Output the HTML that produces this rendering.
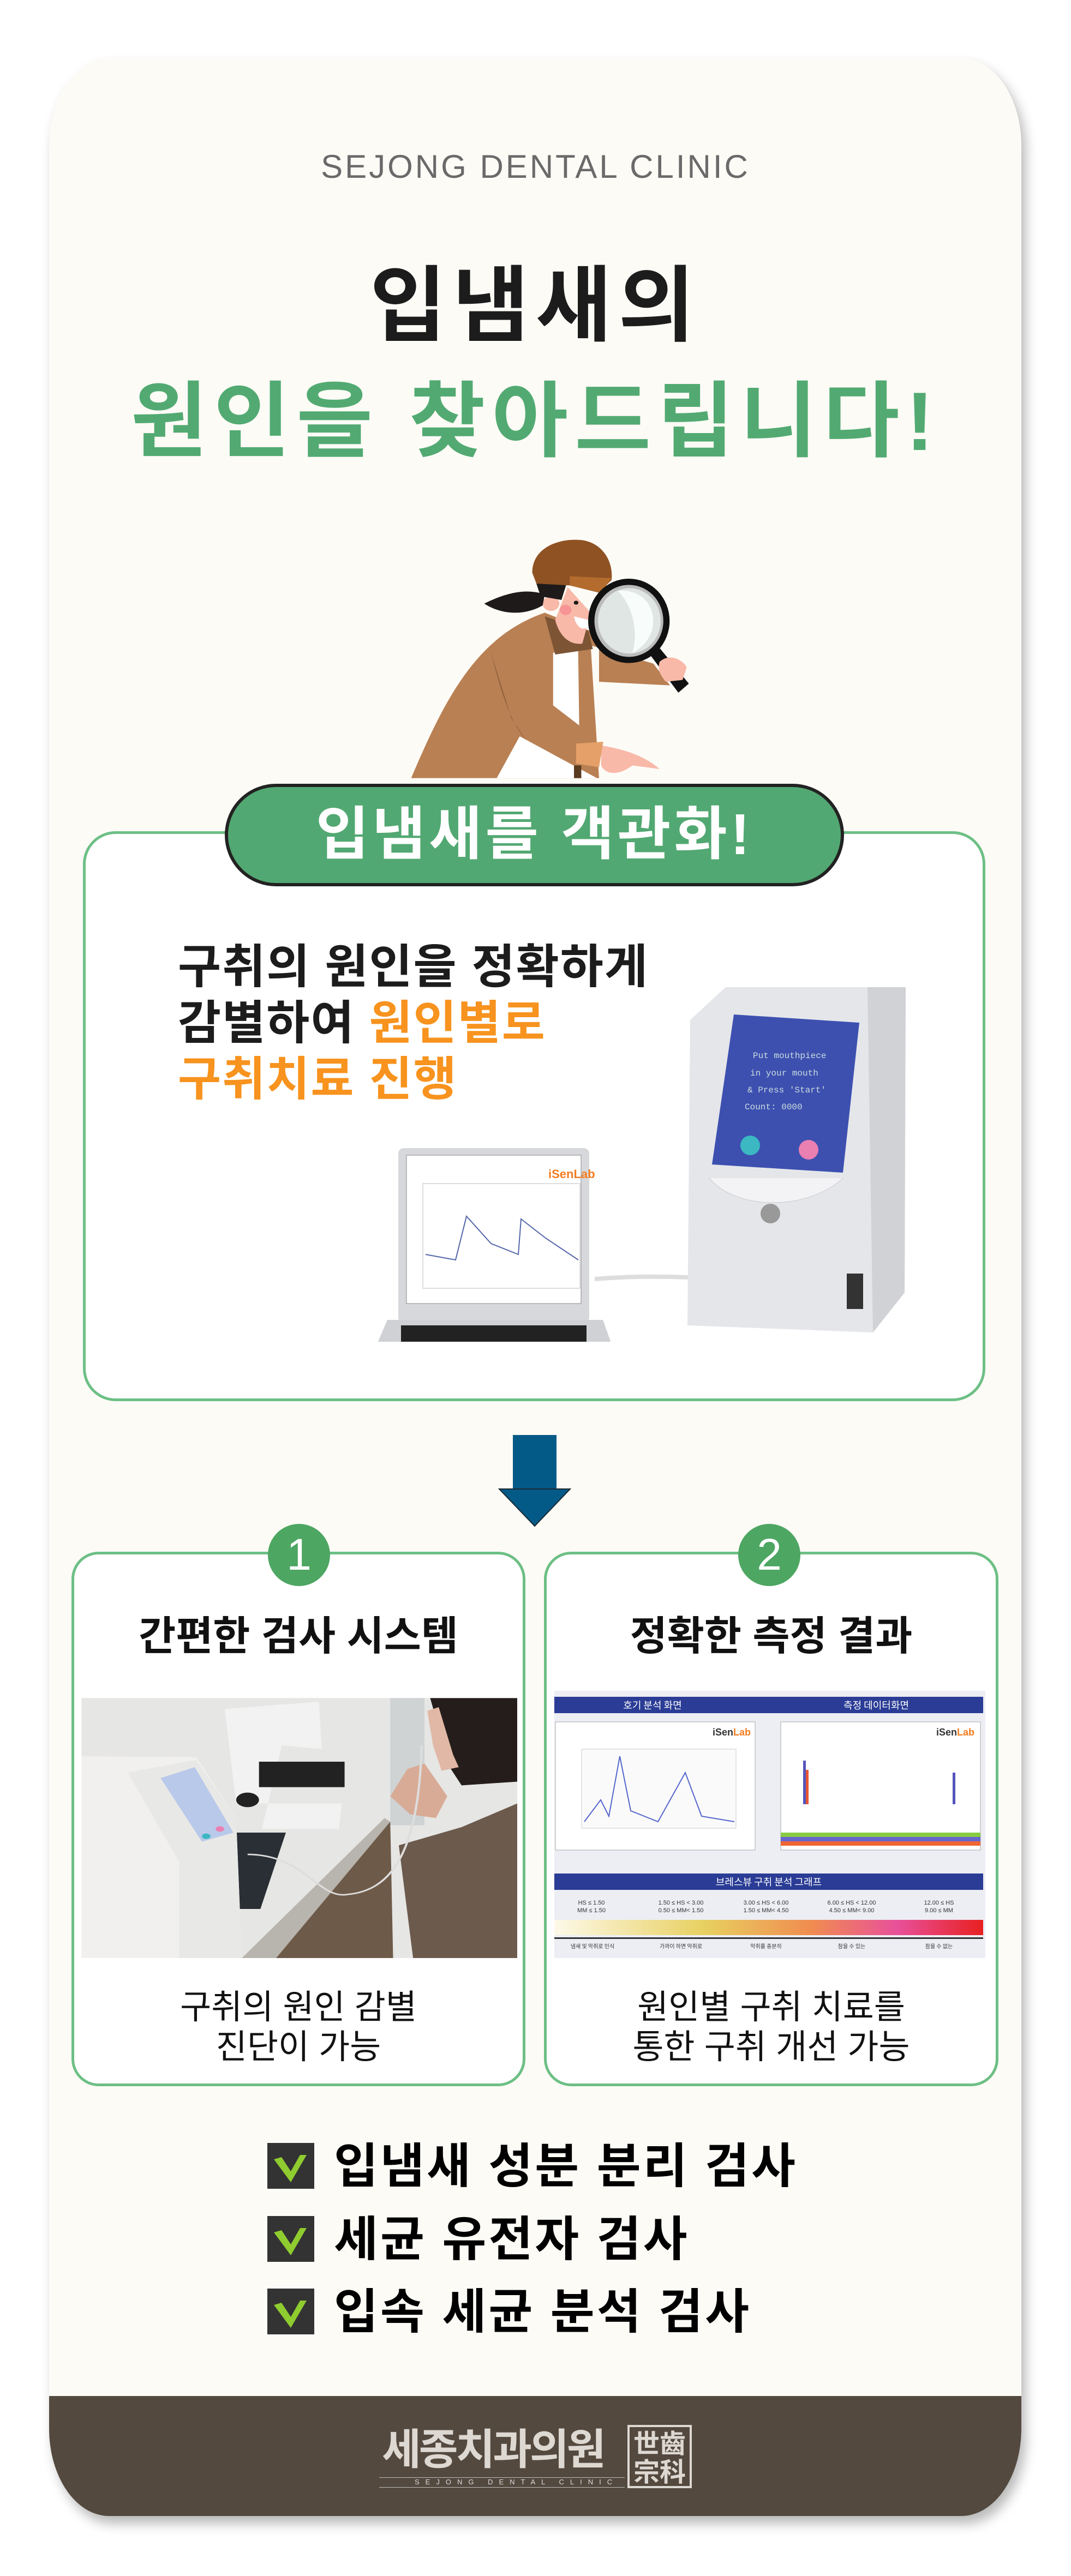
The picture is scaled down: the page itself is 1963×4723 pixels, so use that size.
<!DOCTYPE html>
<html><head><meta charset="utf-8">
<style>
*{margin:0;padding:0;box-sizing:border-box}
body{width:1963px;height:4723px;background:#fff;position:relative;overflow:hidden;font-family:"Liberation Sans","Noto Sans CJK KR",sans-serif}
.a{position:absolute}
.k{font-family:"Liberation Sans","Noto Sans CJK KR",sans-serif;font-weight:700;line-height:1;white-space:nowrap}
#card{left:90px;top:107px;width:1782px;height:4506px;background:#fdfbf6;border-radius:110px/160px;box-shadow:8px 14px 22px rgba(0,0,0,.28);overflow:hidden}
.c{text-align:center}
</style></head><body>
<div id="card" class="a">
  <div class="a" style="left:0;top:4286px;width:1782px;height:220px;background:#54493f"></div>
</div>

<div class="a c" style="left:0;top:276px;width:1963px;font-size:60px;color:#6a6a6a;letter-spacing:4px;font-weight:400;line-height:1">SEJONG DENTAL CLINIC</div>
<div class="a k c" style="left:0;top:485px;width:1963px;font-size:152px;color:#1c1c1c;letter-spacing:12px">입냄새의</div>
<div class="a k c" style="left:0;top:697px;width:1963px;font-size:152px;color:#52aa72;letter-spacing:12px">원인을 찾아드립니다!</div>

<!-- detective -->
<svg class="a" style="left:700px;top:950px" width="600" height="500" viewBox="0 0 1568 1500" preserveAspectRatio="none">
<path d="M140 1430 C300 1000 450 650 780 520 L1040 640 L1040 900 L1380 920 L1300 800 L1000 700 L1040 1430 Z" fill="#b98053"/>
<path d="M820 740 L940 730 L945 1140 L820 1030 Z" fill="#fff"/>
<path d="M660 1200 L1030 1430 L550 1430 Z" fill="#fff"/>
<path d="M780 540 L830 750 L1010 720 L990 620 Z" fill="#7d5535"/>
<path d="M520 730 C560 900 600 1100 690 1220 L620 1100 Z" fill="#8e603d"/>
<path d="M830 560 C850 650 900 700 960 690 L1000 520 L890 380 Z" fill="#f8b9a8"/>
<circle cx="810" cy="470" r="40" fill="#f8b9a8"/>
<circle cx="880" cy="505" r="28" fill="#f57b8a" opacity=".6"/>
<path d="M490 470 C580 420 680 380 780 420 L770 480 C680 540 570 530 490 470Z" fill="#1e1a19"/>
<path d="M740 360 L890 340 L860 450 L760 430Z" fill="#1e1a19"/>
<path d="M720 300 C720 160 850 110 950 120 C1050 130 1110 230 1100 340 L1040 410 L900 370 L740 360Z" fill="#8f5223"/>
<path d="M900 320 L1100 330 L1050 410 L900 370Z" fill="#b36c2d"/>
<path d="M920 540 C930 600 960 620 985 600 L990 560Z" fill="#fff"/>
<circle cx="930" cy="465" r="11" fill="#1e1a19"/>
<path d="M1050 1250 C1150 1270 1250 1300 1330 1380 L1200 1360 C1130 1420 1070 1410 1050 1360Z" fill="#f8b9a8"/>
<path d="M930 1240 L1060 1230 L1040 1370 L930 1350Z" fill="#e4a068"/>
<rect x="920" y="1360" width="35" height="70" fill="#5a3b20"/>
<path d="M1320 700 L1470 910 L1420 960 L1290 760Z" fill="#111"/>
<path d="M1330 790 C1380 740 1440 780 1460 820 L1440 890 L1360 900 C1330 860 1320 830 1330 790Z" fill="#f8b9a8"/>
<ellipse cx="1183" cy="565" rx="195" ry="232" fill="#111"/>
<ellipse cx="1183" cy="565" rx="165" ry="198" fill="#bbb"/>
<ellipse cx="1185" cy="565" rx="150" ry="180" fill="#e0e6e3"/>
<path d="M1130 400 C1320 380 1360 650 1200 740 C1230 620 1200 480 1130 400Z" fill="#f8fdfb"/>
</svg>

<!-- big green box -->
<div class="a" style="left:152px;top:1524px;width:1654px;height:1045px;border:5px solid #6dbf85;border-radius:60px;background:#fff"></div>
<div class="a" style="left:412px;top:1437px;width:1135px;height:188px;border:6px solid #222;border-radius:94px;background:#52a872"></div>
<div class="a k c" style="left:412px;top:1477px;width:1135px;font-size:106px;color:#fff;letter-spacing:6px">입냄새를 객관화!</div>
<div class="a k" style="left:326px;top:1722px;font-size:86px;color:#1c1c1c;line-height:103px;letter-spacing:2px">구취의 원인을 정확하게<br>감별하여 <span style="color:#f7931e">원인별로</span><br><span style="color:#f7931e">구취치료 진행</span></div>

<!-- laptop + device -->
<svg class="a" style="left:660px;top:1800px" width="1020" height="660" viewBox="660 1800 1020 660">
<path d="M1090 2345 C1150 2340 1200 2340 1265 2342" stroke="#ddd" stroke-width="8" fill="none"/>
<rect x="730" y="2105" width="350" height="320" rx="10" fill="#d6d8db"/>
<rect x="745" y="2118" width="320" height="272" fill="#fff" stroke="#888"/>
<rect x="775" y="2170" width="288" height="192" fill="#fff" stroke="#bbb"/>
<path d="M780 2300 L835 2310 L855 2230 L900 2280 L950 2300 L955 2235 L1000 2270 L1060 2310" stroke="#5566aa" stroke-width="2" fill="none"/>
<text x="1005" y="2160" font-size="22" font-weight="700" fill="#f47c20" font-family="Liberation Sans">iSenLab</text>
<path d="M710 2420 L1105 2420 L1130 2490 L680 2490Z" fill="#cfd1d4"/>
<rect x="735" y="2430" width="340" height="38" fill="#222"/>
<path d="M1265 1870 L1330 1810 L1660 1810 L1658 2370 L1600 2443 L1260 2430Z" fill="#e4e6ea"/>
<path d="M1590 1810 L1660 1810 L1658 2370 L1600 2443Z" fill="#d0d2d6"/>
<path d="M1345 1860 L1575 1875 L1545 2150 L1305 2135Z" fill="#3d50b0"/>
<text x="1380" y="1940" font-size="16" fill="#cdd" font-family="Liberation Mono">Put mouthpiece</text>
<text x="1375" y="1972" font-size="16" fill="#cdd" font-family="Liberation Mono">in your mouth</text>
<text x="1370" y="2003" font-size="16" fill="#cdd" font-family="Liberation Mono">&amp; Press 'Start'</text>
<text x="1365" y="2034" font-size="16" fill="#cdd" font-family="Liberation Mono">Count: 0000</text>
<circle cx="1375" cy="2100" r="18" fill="#3bb8c2"/>
<circle cx="1482" cy="2108" r="18" fill="#ea7fb2"/>
<path d="M1300 2160 C1350 2220 1480 2220 1545 2160" fill="#f3f3f5" stroke="#ccc"/>
<circle cx="1412" cy="2225" r="18" fill="#999"/>
<rect x="1552" y="2335" width="30" height="65" fill="#333"/>
</svg>

<!-- arrow -->
<div class="a" style="left:940px;top:2631px;width:80px;height:100px;background:#045a87"></div>
<svg class="a" style="left:913px;top:2728px" width="134" height="72"><path d="M2 2 L132 2 L67 70Z" fill="#045a87" stroke="#1a2a33" stroke-width="2"/></svg>

<!-- boxes -->
<div class="a" style="left:131px;top:2845px;width:832px;height:980px;border:5px solid #6dbf85;border-radius:50px;background:#fff"></div>
<div class="a" style="left:997px;top:2845px;width:833px;height:980px;border:5px solid #6dbf85;border-radius:50px;background:#fff"></div>
<div class="a" style="left:491px;top:2794px;width:114px;height:114px;border-radius:50%;background:#4da662"></div>
<div class="a" style="left:1353px;top:2794px;width:114px;height:114px;border-radius:50%;background:#4da662"></div>
<div class="a k c" style="left:491px;top:2810px;width:114px;font-size:82px;color:#fff;font-weight:400">1</div>
<div class="a k c" style="left:1353px;top:2810px;width:114px;font-size:82px;color:#fff;font-weight:400">2</div>
<div class="a k c" style="left:131px;top:2963px;width:832px;font-size:74px;color:#111">간편한 검사 시스템</div>
<div class="a k c" style="left:997px;top:2963px;width:833px;font-size:74px;color:#111">정확한 측정 결과</div>

<!-- photo1 -->
<svg class="a" style="left:140px;top:3100px" width="820" height="500" viewBox="0 0 1568 1500" preserveAspectRatio="none">
<rect x="18" y="40" width="1527" height="1430" fill="#e6e6e4"/>
<rect x="1100" y="40" width="120" height="700" fill="#cfd3d4"/>
<path d="M580 1470 L1080 700 L1100 720 L700 1470Z" fill="#b8b4ae"/>
<path d="M700 1470 L1100 720 L1110 1470Z" fill="#6e5a48"/>
<rect x="580" y="780" width="320" height="420" fill="#2a2e35" transform="skewX(-12)"/>
<path d="M520 100 L850 60 L860 320 L720 300 L650 760 L920 760 L930 620 L560 620Z" fill="#f2f2f2"/>
<rect x="640" y="390" width="300" height="140" fill="#222"/>
<circle cx="600" cy="600" r="40" fill="#222"/>
<path d="M18 360 L420 365 L560 700 L580 1470 L18 1470Z" fill="#f1f0ee"/>
<path d="M180 450 L420 380 L560 700 L580 1470 L360 1470 L360 940Z" fill="#e8e8e6"/>
<path d="M295 480 L415 420 L550 780 L440 830Z" fill="#b9c9ea"/>
<circle cx="455" cy="800" r="15" fill="#3bb8c2"/><circle cx="503" cy="760" r="15" fill="#ea7fb2"/>
<path d="M1240 40 L1545 40 L1545 500 L1350 520 L1300 400 L1260 150Z" fill="#241d1b"/>
<path d="M1230 110 L1270 90 L1320 350 L1340 420 L1280 440 L1250 300Z" fill="#e0b8a5"/>
<path d="M1160 430 L1220 400 L1300 580 L1260 700 L1170 680 L1100 580Z" fill="#d8ab96"/>
<path d="M1130 850 L1350 750 L1545 620 L1545 1470 L1180 1470Z" fill="#6c5a4d"/>
<path d="M600 900 C800 900 850 1150 950 1120 C1100 1100 1200 900 1210 300" stroke="#ddd" stroke-width="8" fill="none"/>
</svg>

<!-- photo2 -->
<svg class="a" style="left:1016px;top:3100px" width="790" height="490" viewBox="0 0 790 490">
<rect width="790" height="490" fill="#eceef4"/>
<rect x="0" y="11" width="786" height="30" fill="#2a3c95"/>
<text x="180" y="33" font-size="18" fill="#fff" text-anchor="middle" font-family="Noto Sans CJK KR">호기 분석 화면</text>
<text x="590" y="33" font-size="18" fill="#fff" text-anchor="middle" font-family="Noto Sans CJK KR">측정 데이터화면</text>
<rect x="2" y="57" width="366" height="235" fill="#fff" stroke="#aaa"/>
<rect x="415" y="57" width="366" height="235" fill="#fff" stroke="#aaa"/>
<rect x="50" y="107" width="283" height="145" fill="#fafafa" stroke="#ccc"/>
<path d="M55 240 L85 200 L100 230 L120 120 L140 220 L190 240 L240 150 L270 230 L330 240" stroke="#5566cc" stroke-width="2" fill="none"/>
<text x="290" y="82" font-size="18" font-weight="700" fill="#333" font-family="Liberation Sans">iSen<tspan fill="#f47c20">Lab</tspan></text>
<text x="700" y="82" font-size="18" font-weight="700" fill="#333" font-family="Liberation Sans">iSen<tspan fill="#f47c20">Lab</tspan></text>
<rect x="456" y="128" width="5" height="80" fill="#5555bb"/><rect x="461" y="145" width="5" height="63" fill="#e65533"/>
<rect x="730" y="150" width="5" height="58" fill="#5555bb"/>
<rect x="415" y="260" width="366" height="8" fill="#8c4"/><rect x="415" y="268" width="366" height="8" fill="#66c"/><rect x="415" y="276" width="366" height="8" fill="#e63"/>
<rect x="0" y="335" width="786" height="30" fill="#2a3c95"/>
<text x="393" y="357" font-size="18" fill="#fff" text-anchor="middle" font-family="Noto Sans CJK KR">브레스뷰 구취 분석 그래프</text>
<g font-size="11" fill="#333" font-family="Liberation Sans" text-anchor="middle">
<text x="68" y="392">HS ≤ 1.50</text><text x="68" y="406">MM ≤ 1.50</text>
<text x="232" y="392">1.50 ≤ HS &lt; 3.00</text><text x="232" y="406">0.50 ≤ MM&lt; 1.50</text>
<text x="388" y="392">3.00 ≤ HS &lt; 6.00</text><text x="388" y="406">1.50 ≤ MM&lt; 4.50</text>
<text x="545" y="392">6.00 ≤ HS &lt; 12.00</text><text x="545" y="406">4.50 ≤ MM&lt; 9.00</text>
<text x="705" y="392">12.00 ≤ HS</text><text x="705" y="406">9.00 ≤ MM</text>
</g>
<defs><linearGradient id="g" x1="0" x2="1"><stop offset="0" stop-color="#fdf9e8"/><stop offset=".35" stop-color="#e8d060"/><stop offset=".6" stop-color="#f08c50"/><stop offset=".8" stop-color="#e8509a"/><stop offset="1" stop-color="#e82020"/></linearGradient></defs>
<rect x="0" y="420" width="786" height="28" fill="url(#g)"/>
<rect x="0" y="452" width="786" height="3" fill="#333"/>
<g font-size="10" fill="#333" font-family="Noto Sans CJK KR" text-anchor="middle">
<text x="70" y="472">냄새 및 악취로 인식</text><text x="232" y="472">가까이 하면 악취로</text><text x="388" y="472">악취를 충분히</text><text x="545" y="472">참을 수 있는</text><text x="705" y="472">참을 수 없는</text>
</g>
</svg>

<div class="a k c" style="left:131px;top:3644px;width:832px;font-size:62px;color:#111;font-weight:400;line-height:73px">구취의 원인 감별<br>진단이 가능</div>
<div class="a k c" style="left:997px;top:3644px;width:833px;font-size:62px;color:#111;font-weight:400;line-height:73px">원인별 구취 치료를<br>통한 구취 개선 가능</div>

<!-- checklist -->
<svg class="a" style="left:490px;top:3929px" width="86" height="352">
<g><rect width="86" height="84" fill="#333"/><path d="M12 30 L43 72 L72 22 L60 22 L43 52 L26 26Z" fill="#8fcc2f"/></g>
<g transform="translate(0,134)"><rect width="86" height="84" fill="#333"/><path d="M12 30 L43 72 L72 22 L60 22 L43 52 L26 26Z" fill="#8fcc2f"/></g>
<g transform="translate(0,267)"><rect width="86" height="84" fill="#333"/><path d="M12 30 L43 72 L72 22 L60 22 L43 52 L26 26Z" fill="#8fcc2f"/></g>
</svg>
<div class="a k" style="left:612px;top:3928px;font-size:88px;color:#000;letter-spacing:4px">입냄새 성분 분리 검사</div>
<div class="a k" style="left:612px;top:4062px;font-size:88px;color:#000;letter-spacing:4px">세균 유전자 검사</div>
<div class="a k" style="left:612px;top:4195px;font-size:88px;color:#000;letter-spacing:4px">입속 세균 분석 검사</div>

<!-- footer logo -->
<div class="a k" style="left:700px;top:4452px;font-size:78px;color:#ddd8d2;letter-spacing:-4px">세종치과의원</div>
<div class="a" style="left:695px;top:4542px;width:450px;border-top:1px solid #bbb"></div>
<div class="a" style="left:695px;top:4560px;width:450px;border-top:1px solid #bbb"></div>
<div class="a" style="left:760px;top:4544px;font-size:13px;color:#ddd;letter-spacing:11px;line-height:1">SEJONG DENTAL CLINIC</div>
<div class="a" style="left:1150px;top:4446px;width:118px;height:116px;border:4px solid #ddd8d2;color:#ddd8d2;font-family:'Noto Sans CJK TC',sans-serif;font-weight:700;font-size:48px;line-height:52px;text-align:center">世齒<br>宗科</div>
</body></html>
